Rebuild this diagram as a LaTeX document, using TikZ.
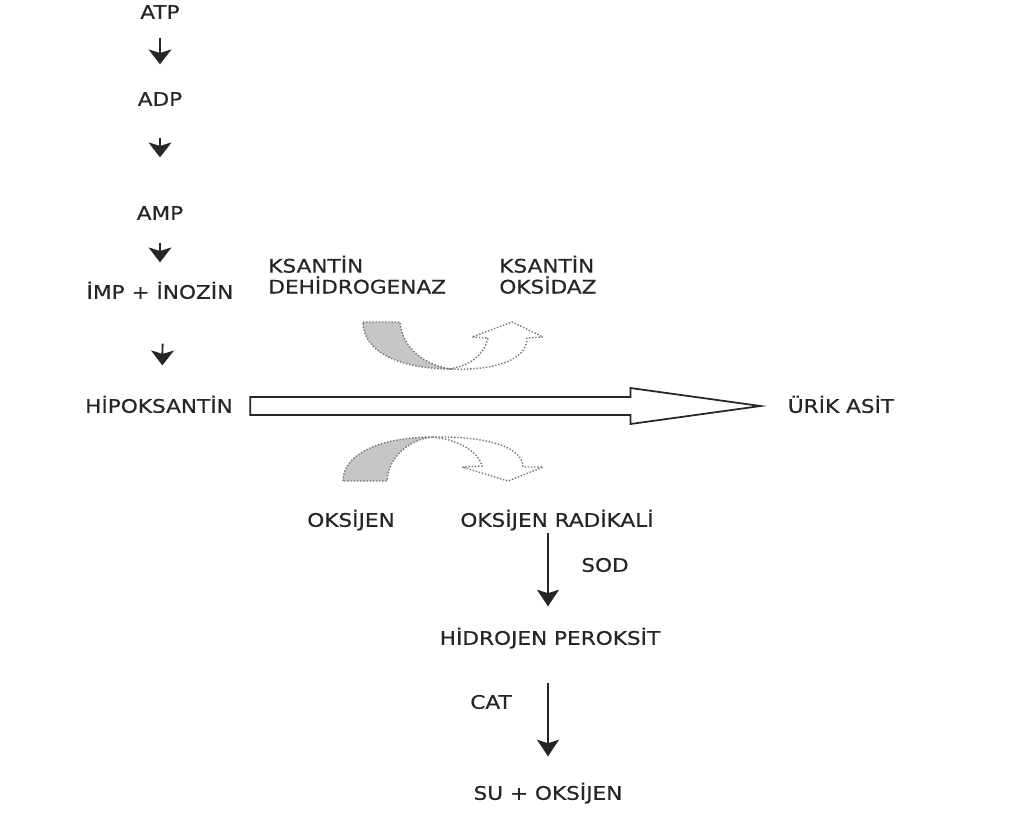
\documentclass[tikz,border=0pt]{standalone}
\usepackage{fontspec}
\setmainfont{DejaVu Sans}[FakeStretch=1.16, FakeBold=0.5]
\usetikzlibrary{arrows.meta,calc}

\begin{document}
\begin{tikzpicture}[
  x=0.02cm, y=-0.02cm,
  lbl/.style={inner sep=0pt, text height=7.7pt, text depth=0pt, text=black!85, font=\fontsize{10.6pt}{11.9pt}\selectfont},
  enz/.style={inner sep=0pt, align=left, anchor=base west, text=black!85, font=\fontsize{10.6pt}{11.9pt}\selectfont},
  smallarrow/.style={-{Stealth[length=8.5pt,width=13pt,inset=2pt]}, line width=1.1pt, black!85},
  longarrow/.style={-{Stealth[length=9.5pt,width=12.5pt,inset=2pt]}, line width=0.8pt, black!85},
  bigarrow/.style={draw=black!85, line width=1pt, fill=white, line join=miter},
  graypart/.style={draw=black!55, fill=gray!45, line width=0.8pt, densely dotted},
  hollowpart/.style={draw=black!55, line width=0.8pt, densely dotted}
]
\useasboundingbox (0,0) rectangle (1011,816);

\node[lbl] (atp) at (160,12) {ATP};
\node[lbl] (adp) at (160,99) {ADP};
\node[lbl] (amp) at (160,213) {AMP};
\node[lbl] (imp) at (160,292) {İMP + İNOZİN};
\node[lbl] (hipo) at (159,406) {HİPOKSANTİN};
\node[lbl] (urik) at (841,406) {ÜRİK ASİT};
\node[enz] (kdh) at (268,293.5) {KSANTİN\\DEHİDROGENAZ};
\node[enz] (kox) at (499,293.5) {KSANTİN\\OKSİDAZ};
\node[lbl] (oks) at (351,520) {OKSİJEN};
\node[lbl] (rad) at (557,520) {OKSİJEN RADİKALİ};
\node[lbl] (sod) at (605,565) {SOD};
\node[lbl] (hp) at (550,638) {HİDROJEN PEROKSİT};
\node[lbl] (cat) at (491,702) {CAT};
\node[lbl] (su) at (548,793) {SU + OKSİJEN};

\draw[smallarrow, shorten <=0.37cm, shorten >=0.55cm] (atp) -- (adp);
\draw[smallarrow, shorten <=0.63cm, shorten >=0.97cm] (adp) -- (amp);
\draw[smallarrow, shorten <=0.45cm, shorten >=0.45cm] (amp) -- (imp);
\draw[smallarrow, shorten <=0.89cm, shorten >=0.67cm] ([xshift=0.06cm]imp.south) -- ([xshift=0.06cm]hipo.north);

\coordinate (tl) at ($(hipo.east)+(17,0)$);
\coordinate (tp) at ($(urik.west)+(-27,0)$);
\draw[bigarrow] ($(tl)+(0,-9)$) -- ($(tp)+(-130,-9)$) -- ($(tp)+(-130,-18)$) -- (tp)
  -- ($(tp)+(-130,18)$) -- ($(tp)+(-130,9)$) -- ($(tl)+(0,9)$) -- cycle;

\filldraw[graypart] (363,322) -- (400,322) .. controls (402,348) and (425,366) .. (452,369)
  .. controls (400,369) and (363,352) .. (363,322) -- cycle;
\draw[hollowpart] (448,369) .. controls (495,371) and (527,360) .. (527,338) -- (543,337)
  -- (512,322) -- (472,337) -- (488,338) .. controls (484,355) and (470,366) .. (448,369);

\filldraw[graypart] (343,481) .. controls (343,452) and (385,437) .. (432,437)
  .. controls (408,440) and (388,458) .. (387,481) -- cycle;
\draw[hollowpart] (432,437) .. controls (490,436) and (523,448) .. (523,467) -- (543,467)
  -- (508,481) -- (462,467) -- (482,466) .. controls (478,450) and (455,439) .. (432,437);

\draw[longarrow, shorten <=0.11cm, shorten >=0.49cm] (rad.south -| su.north) -- (su.north |- hp.north);
\draw[longarrow, shorten <=0.75cm, shorten >=0.59cm] (su.north |- hp.south) -- (su.north);
\end{tikzpicture}
\end{document}
